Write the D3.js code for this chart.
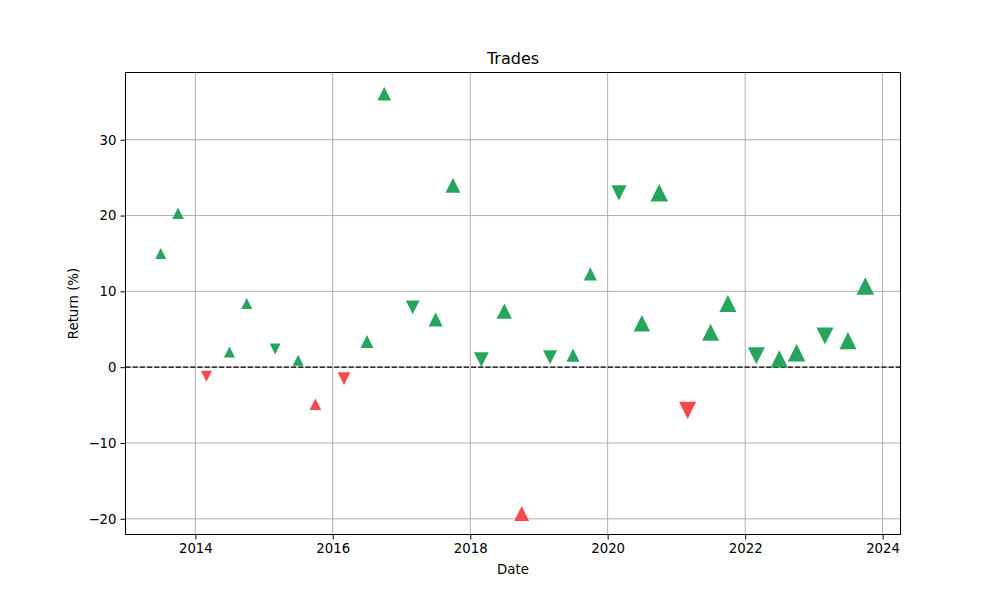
<!DOCTYPE html>
<html>
<head>
<meta charset="utf-8">
<script src="https://cdn.jsdelivr.net/npm/d3@7"></script>
<style>
  body { margin: 0; background: #fff; }
  svg { font-family: "DejaVu Sans", sans-serif; }
</style>
</head>
<body>
<svg id="chart" width="1000" height="600"></svg>
<script>
// ---- data ----
const tradeDates = [
  "2013-07-01","2013-10-01","2014-03-01","2014-07-01","2014-10-01",
  "2015-03-01","2015-07-01","2015-10-01","2016-03-01","2016-07-01",
  "2016-10-01","2017-03-01","2017-07-01","2017-10-01","2018-03-01",
  "2018-07-01","2018-10-01","2019-03-01","2019-07-01","2019-10-01",
  "2020-03-01","2020-07-01","2020-10-01","2021-03-01","2021-07-01",
  "2021-10-01","2022-03-01","2022-07-01","2022-10-01","2023-03-01",
  "2023-07-01","2023-10-01"
];
const returns = [
  15.0, 20.3, -1.2, 2.0, 8.4,
  2.4, 0.9, -4.9, -1.5, 3.4,
  36.1, 7.9, 6.3, 24.0, 1.0,
  7.4, -19.3, 1.3, 1.6, 12.3,
  23.0, 5.8, 23.0, -5.7, 4.6,
  8.4, 1.5, 1.1, 1.9, 4.1,
  3.5, 10.7
];
const directions = [
  "long","long","short","long","long",
  "short","long","long","short","long",
  "long","short","long","long","short",
  "long","long","short","long","long",
  "short","long","long","short","long",
  "long","short","long","long","short",
  "long","long"
];
const tradeSizes = [
  1.0, 1.05, 1.0, 1.0, 1.0,
  1.0, 1.0, 1.05, 1.15, 1.18,
  1.25, 1.25, 1.28, 1.35, 1.35,
  1.4, 1.35, 1.28, 1.2, 1.2,
  1.38, 1.5, 1.6, 1.55, 1.55,
  1.55, 1.55, 1.55, 1.6, 1.55,
  1.55, 1.6
];
const yTickValues = [-20, -10, 0, 10, 20, 30];
const xTickYears = [2014, 2016, 2018, 2020, 2022, 2024];
const titleText = "Trades";
const xLabel = "Date";
const yLabel = "Return (%)";

// ---- layout ----
const margin = { left: 125.5, right: 99.5, top: 72.5, bottom: 65.5 };
const W = 1000, H = 600;
const iw = W - margin.left - margin.right;
const ih = H - margin.top - margin.bottom;
const GREEN = "#27a55e", RED = "#f5494b";

const parse = d3.utcParse("%Y-%m-%d");
const data = tradeDates.map((d, i) => ({
  date: parse(d), ret: returns[i], dir: directions[i], size: tradeSizes[i]
}));

// 5% margins like matplotlib
const tExt = d3.extent(data, d => +d.date);
const tPad = (tExt[1] - tExt[0]) * 0.05;
const yExt = d3.extent(data, d => d.ret);
const yPad = (yExt[1] - yExt[0]) * 0.05;

const x = d3.scaleUtc().domain([new Date(tExt[0] - tPad), new Date(tExt[1] + tPad)]).range([0, iw]);
const y = d3.scaleLinear().domain([yExt[0] - yPad, yExt[1] + yPad]).range([ih, 0]);
const w = d3.scaleLinear().domain([0, 1]).range([0, 11]);

const svg = d3.select("#chart");
const g = svg.append("g").attr("transform", `translate(${margin.left},${margin.top})`);

const xTicks = xTickYears.map(yv => new Date(Date.UTC(yv, 0, 1)));

// grid
g.append("g").selectAll("line").data(xTicks).join("line")
  .attr("x1", d => x(d)).attr("x2", d => x(d)).attr("y1", 0).attr("y2", ih)
  .attr("stroke", "#b0b0b0").attr("stroke-width", 1);
g.append("g").selectAll("line").data(yTickValues).join("line")
  .attr("y1", d => y(d)).attr("y2", d => y(d)).attr("x1", 0).attr("x2", iw)
  .attr("stroke", "#b0b0b0").attr("stroke-width", 1);

// zero line
g.append("line").attr("x1", 0).attr("x2", iw).attr("y1", y(0)).attr("y2", y(0))
  .attr("stroke", "#000").attr("stroke-width", 1.2).attr("stroke-dasharray", "5,2.2");

// markers
const triUp = { draw(ctx, size) { const s = Math.sqrt(size) / 2; ctx.moveTo(0, -s); ctx.lineTo(s, s); ctx.lineTo(-s, s); ctx.closePath(); } };
const triDown = { draw(ctx, size) { const s = Math.sqrt(size) / 2; ctx.moveTo(0, s); ctx.lineTo(s, -s); ctx.lineTo(-s, -s); ctx.closePath(); } };

g.append("g").selectAll("path").data(data).join("path")
  .attr("transform", d => `translate(${x(d.date)},${y(d.ret)})`)
  .attr("d", d => d3.symbol().type(d.dir === "long" ? triUp : triDown).size(Math.pow(w(d.size), 2))())
  .attr("fill", d => d.ret >= 0 ? GREEN : RED);

// axes
const xAxis = d3.axisBottom(x).tickValues(xTicks).tickFormat(d3.utcFormat("%Y")).tickSizeOuter(0).tickSize(5).tickPadding(4);
const yAxis = d3.axisLeft(y).tickValues(yTickValues).tickFormat(d => d < 0 ? "\u2212" + Math.abs(d) : d).tickSizeOuter(0).tickSize(5).tickPadding(4);

const gx = g.append("g").attr("transform", `translate(0,${ih})`).call(xAxis);
const gy = g.append("g").call(yAxis);
[gx, gy].forEach(a => {
  a.select(".domain").remove();
  a.selectAll("text").attr("font-size", 13.3).attr("fill", "#000").attr("font-family", "DejaVu Sans");
  a.selectAll("line").attr("stroke", "#000").attr("stroke-width", 1);
});

// frame
g.append("rect").attr("x", 0).attr("y", 0).attr("width", iw).attr("height", ih)
  .attr("fill", "none").attr("stroke", "#000").attr("stroke-width", 1);

// labels
svg.append("text").attr("x", margin.left + iw / 2).attr("y", 64).attr("text-anchor", "middle")
  .attr("font-size", 16).text(titleText);
svg.append("text").attr("x", margin.left + iw / 2).attr("y", 574).attr("text-anchor", "middle")
  .attr("font-size", 13.3).text(xLabel);
svg.append("text").attr("transform", `translate(78,${margin.top + ih / 2}) rotate(-90)`)
  .attr("text-anchor", "middle").attr("font-size", 13.3).text(yLabel);
</script>
</body>
</html>
